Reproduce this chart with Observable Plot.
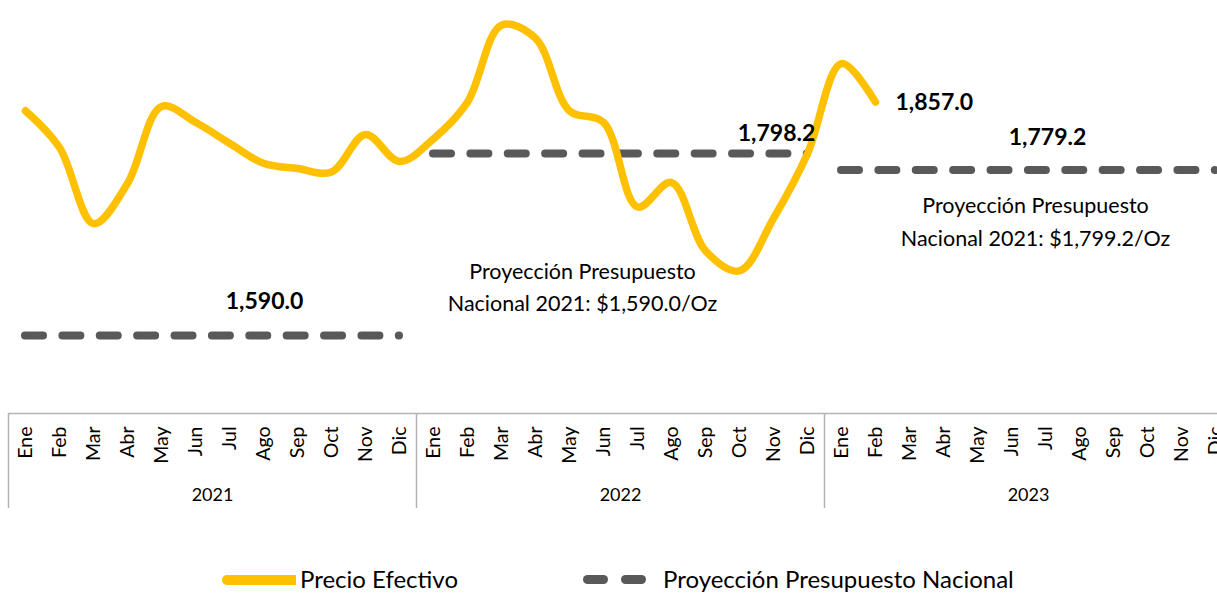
<!DOCTYPE html>
<html>
<head>
<meta charset="utf-8">
<script src="https://cdn.jsdelivr.net/npm/d3@7"></script>
<script src="https://cdn.jsdelivr.net/npm/@observablehq/plot@0.6"></script>
<style>
  body { margin: 0; background: #fff; font-family: Lato, sans-serif; overflow: hidden; }
  #chart svg { display: block; }
  #legend { position: relative; height: 43px; width: 1217px; }
  #legend .sw { position: absolute; }
  #legend .lab { position: absolute; font-size: 24px; line-height: 24px; color: #000; white-space: nowrap; }
</style>
</head>
<body>
<div id="chart"></div>
<div id="legend">
  <span class="sw" style="left:222px; top:25px; width:74px; height:10px; background:#FFC000; border-radius:5px 0 0 5px;"></span>
  <span class="lab" id="leg1" style="left:300px; top:17px;"></span>
  <span class="sw" style="left:583px; top:25px; width:25px; height:9px; background:#595959; border-radius:4.5px;"></span>
  <span class="sw" style="left:621px; top:25px; width:25px; height:9px; background:#595959; border-radius:4.5px;"></span>
  <span class="lab" id="leg2" style="left:663px; top:17px;"></span>
</div>
<script>
// ---- data ----
const months = ["Ene","Feb","Mar","Abr","May","Jun","Jul","Ago","Sep","Oct","Nov","Dic"];
const years = ["2021","2022","2023"];
const precioEfectivo = [1847, 1805, 1718, 1764, 1852, 1834, 1810, 1787, 1781, 1777, 1820, 1789,
                        1815, 1857, 1945, 1930, 1847, 1834, 1737, 1765, 1687, 1664, 1724, 1798,
                        1901, 1857];
const proyeccion = [1590.0, 1798.2, 1779.2];
const proyeccionLabels = ["1,590.0", "1,798.2", "1,779.2"];
const ultimoLabel = "1,857.0";
const notas = ["Proyección Presupuesto\nNacional 2021: $1,590.0/Oz",
               "Proyección Presupuesto\nNacional 2021: $1,799.2/Oz"];
const seriesNames = ["Precio Efectivo", "Proyección Presupuesto Nacional"];

// ---- derived tables ----
const nMonths = months.length * years.length;
const precioData = precioEfectivo.map((v, i) => ({i, v}));
const projData = proyeccion.map((v, k) => ({start: k * 12, end: k * 12 + 11, v, label: proyeccionLabels[k]}));
const monthTicks = d3.range(nMonths);
const yearBounds = d3.range(years.length + 1).map(k => k * 12 - 0.5);
const yearCenters = years.map((y, k) => k * 12 + 5.5);
const yDomain = [1500.77, 1973.22];

const yellow = "#FFC000", grey = "#595959";

const chart = Plot.plot({
  width: 1217,
  height: 550,
  marginLeft: 8,
  marginRight: 0,
  marginTop: 0,
  marginBottom: 137,
  style: {fontFamily: "Lato, sans-serif", background: "white", color: "#000"},
  x: {type: "linear", domain: [-0.5, nMonths - 0.5], range: [8, 1232], axis: null},
  y: {domain: yDomain, axis: null},
  marks: [
    // axis frame line
    Plot.ruleY([yDomain[0]], {stroke: "#b3b3b3", strokeWidth: 1.5}),
    // year dividers
    Plot.axisX(yearBounds, {tickSize: 95, tickFormat: () => "", stroke: "#b3b3b3", strokeWidth: 1.5, label: null}),
    // month labels
    Plot.axisX(monthTicks, {tickSize: 0, tickPadding: 13, tickRotate: -90, fontSize: 19.5,
      tickFormat: i => months[i % 12], label: null}),
    // year labels
    Plot.axisX(yearCenters, {tickSize: 0, tickPadding: 75, fontSize: 18,
      tickFormat: c => years[Math.floor(c / 12)], label: null}),
    // projections
    Plot.ruleY(projData, {x1: "start", x2: "end", y: "v", stroke: grey, strokeWidth: 8,
      strokeDasharray: "18,19.38", strokeLinecap: "round"}),
    // price line
    Plot.line(precioData, {x: "i", y: "v", curve: "catmull-rom", stroke: yellow, strokeWidth: 7.5,
      strokeLinecap: "round", strokeLinejoin: "round"}),
    // projection value labels
    Plot.text([projData[0]], {x: d => d.start + 7, y: "v", text: "label", dx: 1, dy: -34,
      fontSize: 23, fontWeight: "bold"}),
    Plot.text([projData[1]], {x: d => d.start + 10, y: "v", text: "label", dx: 3, dy: -20,
      fontSize: 23, fontWeight: "bold"}),
    Plot.text([projData[2]], {x: d => d.start + 6, y: "v", text: "label", dx: 2, dy: -32,
      fontSize: 23, fontWeight: "bold"}),
    // last price label
    Plot.text([precioData[precioData.length - 1]], {x: "i", y: "v", text: () => ultimoLabel,
      textAnchor: "start", dx: 20, dy: 1, fontSize: 23, fontWeight: "bold"}),
    // notes
    Plot.text([projData[0]], {x: d => d.start + 17, y: "v", text: () => notas[0], dx: -21, dy: -51,
      fontSize: 21.5, lineHeight: 1.5}),
    Plot.text([projData[2]], {x: d => d.start + 6, y: "v", text: () => notas[1], dx: -10, dy: 49,
      fontSize: 21.5, lineHeight: 1.5})
  ]
});
document.getElementById("chart").append(chart);
document.getElementById("leg1").textContent = seriesNames[0];
document.getElementById("leg2").textContent = seriesNames[1];
</script>
</body>
</html>
